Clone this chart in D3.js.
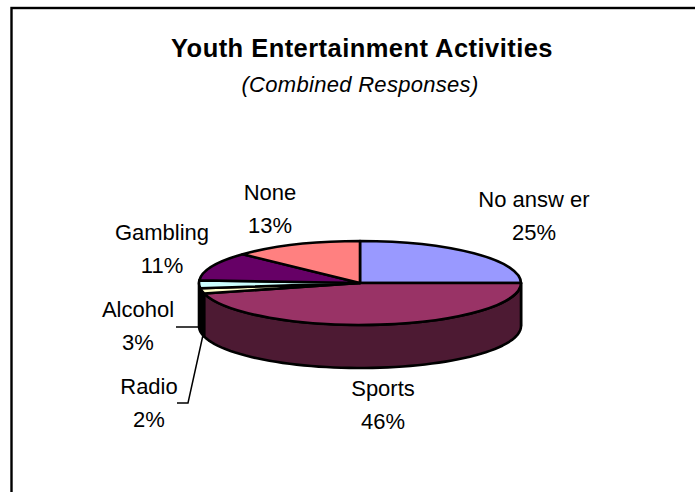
<!DOCTYPE html>
<html>
<head>
<meta charset="utf-8">
<script src="https://cdn.jsdelivr.net/npm/d3@7"></script>
<style>
  html, body { margin: 0; padding: 0; background: #fff; }
  svg { display: block; }
  text { font-family: "Liberation Sans", Arial, sans-serif; fill: #000; }
</style>
</head>
<body>
<svg id="chart" width="695" height="492"></svg>
<script>
const categories = ["No answer", "Sports", "Radio", "Alcohol", "Gambling", "None"];
const shares = [25, 46, 2, 3, 11, 13];
const sliceColors = ["#9999FF", "#993366", "#FFFFCC", "#CCFFFF", "#660066", "#FF8080"];
const wallColors = ["#4D4D80", "#4D1A33", "#000000", "#000000", "#330033", "#804040"];
const chartTitle = "Youth Entertainment Activities";
const chartSubtitle = "(Combined Responses)";
const displayNames = ["No answ er", "Sports", "Radio", "Alcohol", "Gambling", "None"];
const labelAnchors = [[534, 207], [383, 396], [149, 394], [138, 317], [162, 240], [270, 200]];

const svg = d3.select("#chart");
const cx = 360, cy = 283, rx = 161, ry = 42, depth = 43;

svg.append("rect")
  .attr("x", 11.5).attr("y", 8).attr("width", 800).attr("height", 600)
  .attr("fill", "#fff").attr("stroke", "#000").attr("stroke-width", 2.4);

svg.append("text").attr("x", 362).attr("y", 56.5).attr("text-anchor", "middle")
  .attr("font-size", 25.5).attr("font-weight", "bold").attr("letter-spacing", 0.45).text(chartTitle);
svg.append("text").attr("x", 360).attr("y", 91.5).attr("text-anchor", "middle")
  .attr("font-size", 22).attr("font-style", "italic").attr("letter-spacing", 0.3).text(chartSubtitle);

const arcs = d3.pie().sort(null).value(d => d)(shares);

const px = a => cx + rx * Math.sin(a);
const py = (a, dz = 0) => cy - ry * Math.cos(a) + dz;

// Side wall: only the front half of the rim (right through bottom to left) is visible.
const wall = svg.append("g");
arcs.forEach((d, i) => {
  const a0 = Math.max(d.startAngle, Math.PI / 2);
  const a1 = Math.min(d.endAngle, 3 * Math.PI / 2);
  if (a1 <= a0) return;
  const steps = d3.range(0, 61).map(k => a0 + (a1 - a0) * k / 60);
  const outline = steps.map(a => [px(a), py(a)])
    .concat(steps.slice().reverse().map(a => [px(a), py(a, depth)]));
  wall.append("path")
    .attr("d", d3.line()(outline) + "Z")
    .attr("fill", wallColors[i])
    .attr("stroke", "#000").attr("stroke-width", 2.6).attr("stroke-linejoin", "round");
});

// Top face: a circular d3.arc squashed into an ellipse, keeping an even stroke.
const arcGen = d3.arc().innerRadius(0).outerRadius(rx);
svg.append("g")
  .attr("transform", `translate(${cx},${cy}) scale(1,${ry / rx})`)
  .selectAll("path").data(arcs).join("path")
  .attr("d", arcGen)
  .attr("fill", (d, i) => sliceColors[i])
  .attr("stroke", "#000").attr("stroke-width", 2.6)
  .attr("stroke-linejoin", "round")
  .attr("vector-effect", "non-scaling-stroke");

// Leader lines for the two narrow slices.
const leader = d3.line();
svg.append("path").attr("d", leader([[176, 327], [201, 327]]))
  .attr("fill", "none").attr("stroke", "#000").attr("stroke-width", 1.5);
svg.append("path").attr("d", leader([[177, 403], [188, 403], [203, 335]]))
  .attr("fill", "none").attr("stroke", "#000").attr("stroke-width", 1.5);

// Two-line labels: category name above its percentage.
const labels = svg.append("g").attr("font-size", 22).attr("text-anchor", "middle");
categories.forEach((c, i) => {
  const [x, y] = labelAnchors[i];
  labels.append("text").attr("x", x).attr("y", y).text(displayNames[i]);
  labels.append("text").attr("x", x).attr("y", y + 32.5).text(shares[i] + "%");
});
</script>
</body>
</html>
